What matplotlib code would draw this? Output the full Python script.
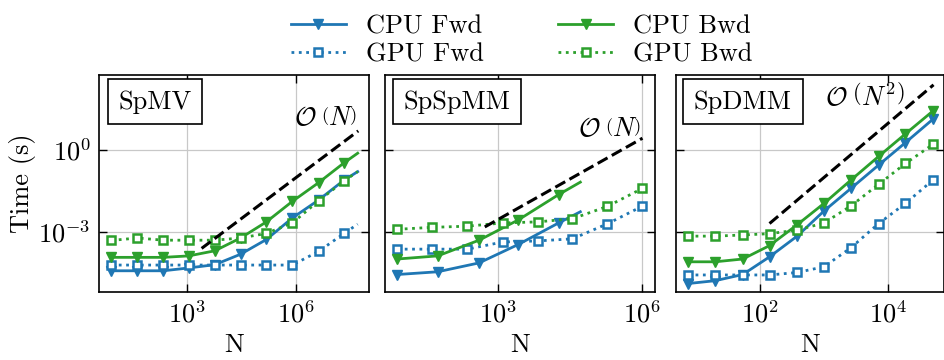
import numpy as np
import matplotlib
matplotlib.use('Agg')
import matplotlib.pyplot as plt
from matplotlib.ticker import NullLocator

plt.rcParams['font.family'] = 'serif'
plt.rcParams['font.serif'] = ['cmr10']
plt.rcParams['mathtext.fontset'] = 'cm'
plt.rcParams['axes.formatter.use_mathtext'] = True
plt.rcParams['font.size'] = 19
plt.rcParams['axes.unicode_minus'] = False

blue = '#1f77b4'
green = '#2ca02c'

# --- SpMV ---
spmv_n = [8, 42, 219, 1.1e3, 5.8e3, 3.0e4, 1.55e5, 8.1e5, 4.3e6, 2.2e7, 5.2e7]
spmv_cpu_fwd = [3.7e-5, 3.7e-5, 3.7e-5, 4.7e-5, 6.2e-5, 1.5e-4, 5.2e-4, 3.2e-3, 1.45e-2, 7.9e-2, 0.16]
spmv_cpu_bwd = [1.15e-4, 1.15e-4, 1.15e-4, 1.3e-4, 2.0e-4, 5.9e-4, 2.3e-3, 1.3e-2, 6.3e-2, 0.34, 0.76]
spmv_gpu_fwd = [6.0e-5, 6.0e-5, 6.0e-5, 6.0e-5, 6.0e-5, 6.0e-5, 6.0e-5, 6.0e-5, 1.9e-4, 8.7e-4, 1.9e-3]
spmv_gpu_bwd = [4.8e-4, 5.9e-4, 4.9e-4, 4.9e-4, 4.9e-4, 5.9e-4, 8.7e-4, 2.1e-3, 1.35e-2, 7.4e-2, 0.16]
spmv_ref_n = [2.5e3, 5.4e7]
spmv_ref_t = [2.45e-4, 5.0]

# --- SpSpMM ---
spspmm_cpu_n = [8, 55, 400, 2.6e3, 1.8e4, 5.1e4]
spspmm_cpu_fwd = [2.7e-5, 3.4e-5, 7.2e-5, 3.4e-4, 2.1e-3, 5.4e-3]
spspmm_cpu_bwd = [1.0e-4, 1.3e-4, 4.9e-4, 2.7e-3, 2.3e-2, 6.6e-2]
spspmm_gpu_n = [8, 42, 229, 1.23e3, 6.6e3, 3.5e4, 1.86e5, 1.0e6]
spspmm_gpu_fwd = [2.3e-4, 2.3e-4, 2.3e-4, 4.2e-4, 4.6e-4, 5.5e-4, 1.95e-3, 8.7e-3]
spspmm_gpu_bwd = [1.23e-3, 1.45e-3, 1.6e-3, 2.1e-3, 2.3e-3, 3.0e-3, 8.5e-3, 3.9e-2]
spspmm_ref_n = [525, 1.0e6]
spspmm_ref_t = [1.5e-3, 2.7]

# --- SpDMM ---
spdmm_n = [7.6, 20, 54, 141, 380, 1.0e3, 2.63e3, 7.1e3, 1.86e4, 5.0e4]
spdmm_cpu_fwd = [1.26e-5, 1.6e-5, 2.7e-5, 1.2e-4, 6.9e-4, 5.8e-3, 3.9e-2, 0.28, 1.86, 13.5]
spdmm_cpu_bwd = [7.9e-5, 7.9e-5, 1.0e-4, 3.1e-4, 1.8e-3, 1.1e-2, 7.9e-2, 0.58, 3.9, 27.0]
spdmm_gpu_fwd = [2.6e-5, 2.6e-5, 2.6e-5, 2.6e-5, 3.2e-5, 5.2e-5, 2.6e-4, 2.0e-3, 1.1e-2, 7.9e-2]
spdmm_gpu_bwd = [6.9e-4, 6.9e-4, 7.6e-4, 8.5e-4, 1.15e-3, 2.1e-3, 8.9e-3, 5.5e-2, 0.32, 1.6]
spdmm_ref_n = [141, 5.1e4]
spdmm_ref_t = [2.0e-3, 245]

fig, axes = plt.subplots(1, 3, figsize=(9.45, 3.6), dpi=100, sharey=True)
boxes = [[0.1048, 0.1889, 0.2857, 0.6028],
         [0.4074, 0.1889, 0.2857, 0.6028],
         [0.7153, 0.1889, 0.2836, 0.6028]]
for ax, b in zip(axes, boxes):
    ax.set_position(b)
    ax.set_xscale('log')
    ax.set_yscale('log')

lw = 2.0
ms = 6.5
cpu_kw = dict(linestyle='-', marker='v', linewidth=lw, markersize=ms)
gpu_kw = dict(linestyle=':', marker='s', linewidth=lw, markersize=ms - 0.5,
              markerfacecolor='white', markeredgewidth=1.8)
box_kw = dict(boxstyle='square,pad=0.4', facecolor='white', edgecolor='black', linewidth=1.2)

# SpMV
ax = axes[0]
m = list(range(10))
ax.plot(spmv_n, spmv_cpu_fwd, color=blue, markevery=m, label='CPU Fwd', **cpu_kw)
ax.plot(spmv_n, spmv_gpu_fwd, color=blue, markevery=m, label='GPU Fwd', **gpu_kw)
ax.plot(spmv_n, spmv_cpu_bwd, color=green, markevery=m, label='CPU Bwd', **cpu_kw)
ax.plot(spmv_n, spmv_gpu_bwd, color=green, markevery=m, label='GPU Bwd', **gpu_kw)
ax.plot(spmv_ref_n, spmv_ref_t, 'k--', linewidth=2.2)
ax.set_xlim(10**0.56, 10**8.03)
ax.set_xticks([1e3, 1e6])
ax.text(0.955, 0.804, r'$\mathcal{O}\;\left(N\right)$', transform=ax.transAxes,
        ha='right', va='center')
ax.text(0.207, 0.876, 'SpMV', transform=ax.transAxes, ha='center', va='center', bbox=box_kw)

# SpSpMM
ax = axes[1]
m = list(range(5))
ax.plot(spspmm_cpu_n, spspmm_cpu_fwd, color=blue, markevery=m, **cpu_kw)
ax.plot(spspmm_gpu_n, spspmm_gpu_fwd, color=blue, **gpu_kw)
ax.plot(spspmm_cpu_n, spspmm_cpu_bwd, color=green, markevery=m, **cpu_kw)
ax.plot(spspmm_gpu_n, spspmm_gpu_bwd, color=green, **gpu_kw)
ax.plot(spspmm_ref_n, spspmm_ref_t, 'k--', linewidth=2.2)
ax.set_xlim(10**0.645, 10**6.26)
ax.set_xticks([1e3, 1e6])
ax.text(0.948, 0.751, r'$\mathcal{O}\;\left(N\right)$', transform=ax.transAxes,
        ha='right', va='center')
ax.text(0.267, 0.876, 'SpSpMM', transform=ax.transAxes, ha='center', va='center', bbox=box_kw)

# SpDMM
ax = axes[2]
ax.plot(spdmm_n, spdmm_cpu_fwd, color=blue, **cpu_kw)
ax.plot(spdmm_n, spdmm_gpu_fwd, color=blue, **gpu_kw)
ax.plot(spdmm_n, spdmm_cpu_bwd, color=green, **cpu_kw)
ax.plot(spdmm_n, spdmm_gpu_bwd, color=green, **gpu_kw)
ax.plot(spdmm_ref_n, spdmm_ref_t, 'k--', linewidth=2.2)
ax.set_xlim(10**0.69, 10**4.87)
ax.set_xticks([1e2, 1e4])
ax.text(0.705, 0.901, r'$\mathcal{O}\;\left(N^2\right)$', transform=ax.transAxes,
        ha='center', va='center')
ax.text(0.25, 0.876, 'SpDMM', transform=ax.transAxes, ha='center', va='center', bbox=box_kw)

for ax in axes:
    ax.set_ylim(10**-5.21, 10**2.75)
    ax.set_yticks([1e-3, 1e0])
    ax.xaxis.set_minor_locator(NullLocator())
    ax.yaxis.set_minor_locator(NullLocator())
    ax.grid(True, color='#c8c8c8', linewidth=0.9)
    ax.set_axisbelow(True)
    ax.tick_params(direction='in', length=6, width=1.0, top=True, right=True, pad=6)
    for s in ax.spines.values():
        s.set_linewidth(1.2)
    ax.set_xlabel('N', labelpad=4)
axes[0].set_ylabel('Time (s)', labelpad=2)

fig.legend(loc='upper center', bbox_to_anchor=(0.552, 1.025), ncol=2, frameon=False,
           handlelength=2.1, handletextpad=0.75, columnspacing=2.8, labelspacing=0.15,
           numpoints=1)

fig.savefig('out.png', dpi=100)
